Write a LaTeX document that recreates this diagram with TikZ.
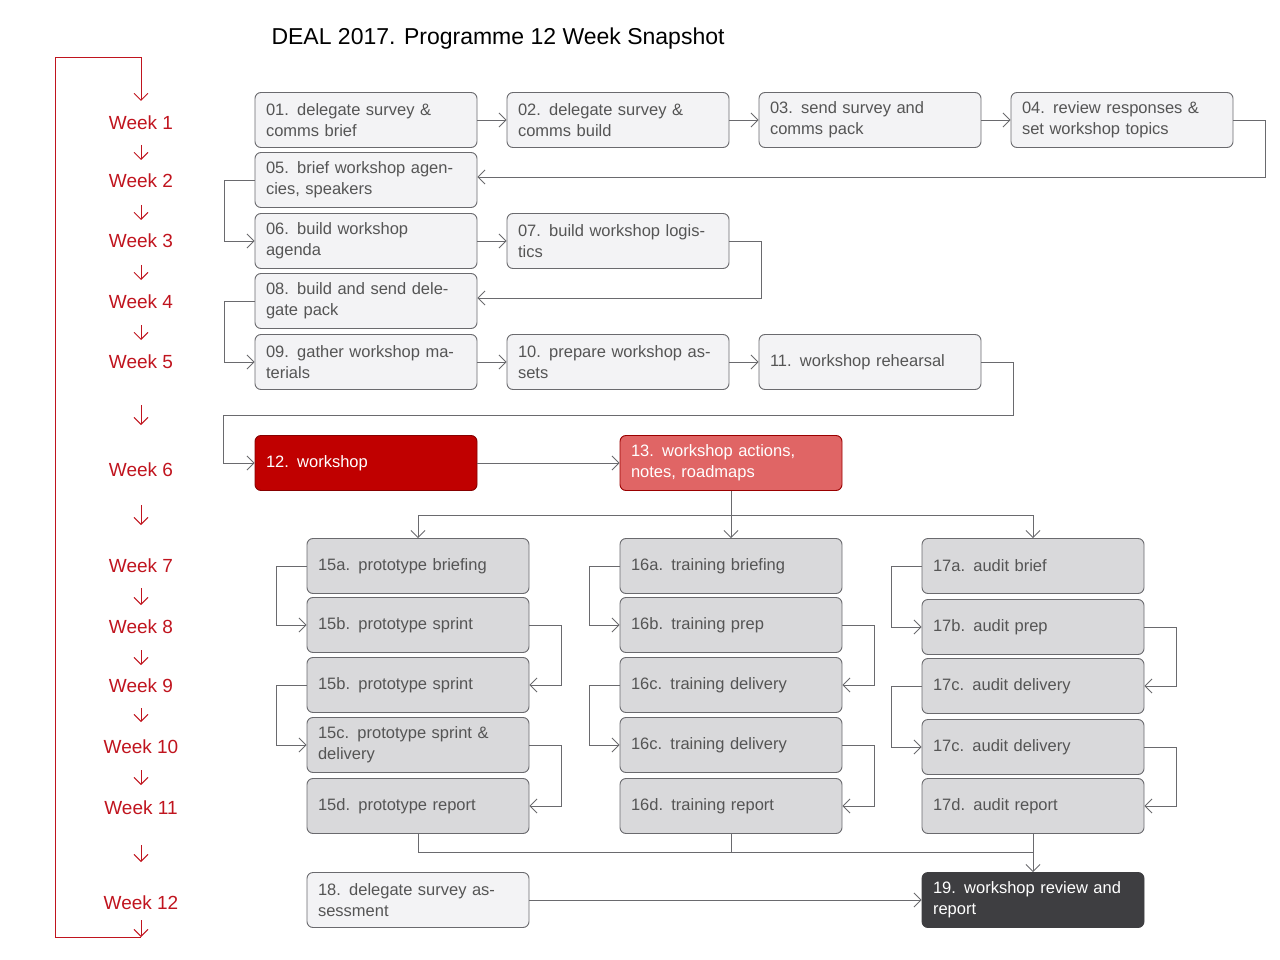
\documentclass[tikz,border=0pt]{standalone}
\usepackage{fontspec}
\setmainfont{Liberation Sans}
\usetikzlibrary{arrows.meta,positioning}
\definecolor{boxline}{HTML}{6A6A6E}
\definecolor{boxfill}{HTML}{F3F3F5}
\definecolor{boxdark}{HTML}{D9D9DB}
\definecolor{txtgray}{HTML}{555555}
\definecolor{weekred}{HTML}{C0141E}
\definecolor{wsred}{HTML}{C00000}
\definecolor{actred}{HTML}{E06565}
\definecolor{review}{HTML}{3E3E41}
\tikzset{
  task/.style={draw=boxline, fill=boxfill, rounded corners=6pt, line width=0.9pt,
    minimum width=222pt, minimum height=55pt, text width=200pt, inner xsep=11pt,
    align=left, text=txtgray, font=\fontsize{16.5}{21}\selectfont},
  phase/.style={task, fill=boxdark},
  week/.style={text=weekred, font=\fontsize{19}{22}\selectfont},
  link/.style={draw=boxline, line width=0.9pt, -{Straight Barb[length=7pt,width=14pt]}},
  plain/.style={draw=boxline, line width=0.9pt},
  wk/.style={draw=weekred, line width=0.9pt, -{Straight Barb[length=7pt,width=14pt]}}
}
\begin{document}
\begin{tikzpicture}[x=1pt,y=-1pt]
\useasboundingbox (0,0) rectangle (1280,960);

\node[anchor=west, font=\fontsize{23}{26}\selectfont] (title) at (268,39) {DEAL 2017. Programme 12 Week Snapshot};

% weeks
\foreach \n/\y in {1/123, 2/181, 3/241, 4/302, 5/362, 6/470, 7/566, 8/627, 9/686, 10/747, 11/808, 12/903}
  \node[week] (w\n) at (141,\y) {Week \n};
\foreach \a/\b in {145/160, 205/220, 265/280, 325/340, 405/425, 505/525, 588/605, 650/665, 708/722, 770/785, 845/862, 920/937}
  \draw[wk] (141,\a) -- (141,\b);
\coordinate (wtop) at (55,57);
\coordinate (wbot) at (55,937);
\draw[wk] (wbot) -- (wtop) -- (141,57) -- (141,101);
\draw[draw=weekred, line width=0.9pt] (wbot) -- (141,937);

% weeks 1 to 5
\node[task] (t01) at (366,120) {01. delegate survey \& comms brief};
\node[task] (t02) at (618,120) {02. delegate survey \& comms build};
\node[task] (t03) at (870,120) {03. send survey and comms pack};
\node[task] (t04) at (1122,120) {04. review responses \& set workshop topics};
\node[task] (t05) at (366,180) {05. brief workshop agencies, speakers};
\node[task] (t06) at (366,241) {06. build workshop agenda};
\node[task] (t07) at (618,241) {07. build workshop logistics};
\node[task] (t08) at (366,301) {08. build and send delegate pack};
\node[task] (t09) at (366,362) {09. gather workshop materials};
\node[task] (t10) at (618,362) {10. prepare workshop assets};
\node[task] (t11) at (870,362) {11. workshop rehearsal};

% week 6
\node[task, fill=wsred, draw=wsred!70!black, text=white] (t12) at (366,463) {12. workshop};
\node[task, fill=actred, draw=wsred!80!black, text=white] (t13) at (731,463) {13. workshop actions, notes, roadmaps};

% weeks 7 to 11
\node[phase] (p15a) at (418,566) {15a. prototype briefing};
\node[phase] (p15b) at (418,625) {15b. prototype sprint};
\node[phase] (p15c) at (418,685) {15b. prototype sprint};
\node[phase] (p15d) at (418,745) {15c. prototype sprint \& delivery};
\node[phase] (p15e) at (418,806) {15d. prototype report};
\node[phase] (p16a) at (731,566) {16a. training briefing};
\node[phase] (p16b) at (731,625) {16b. training prep};
\node[phase] (p16c) at (731,685) {16c. training delivery};
\node[phase] (p16d) at (731,745) {16c. training delivery};
\node[phase] (p16e) at (731,806) {16d. training report};
\node[phase] (p17a) at (1033,566) {17a. audit brief};
\node[phase] (p17b) at (1033,627) {17b. audit prep};
\node[phase] (p17c) at (1033,686) {17c. audit delivery};
\node[phase] (p17d) at (1033,747) {17c. audit delivery};
\node[phase] (p17e) at (1033,806) {17d. audit report};

% week 12
\node[task] (t18) at (418,900) {18. delegate survey assessment};
\node[task, fill=review, draw=review, text=white] (t19) at (1033,900) {19. workshop review and report};

% connectors
\draw[link] (t01) -- (t02);
\draw[link] (t02) -- (t03);
\draw[link] (t03) -- (t04);
\draw[link] (t04.east) -- ++(32,0) |- ([yshift=3pt]t05.east);
\draw[link] (t05.west) -- ++(-30,0) |- (t06.west);
\draw[link] (t06) -- (t07);
\draw[link] (t07.east) -- ++(32,0) |- ([yshift=3pt]t08.east);
\draw[link] (t08.west) -- ++(-30,0) |- (t09.west);
\draw[link] (t09) -- (t10);
\draw[link] (t10) -- (t11);
\draw[link] (t11.east) -- ++(32,0) |- (223,415) |- (t12.west);
\draw[link] (t12) -- (t13);
\coordinate (split) at (731,515);
\draw[plain] (t13.south) -- (split);
\draw[link] (split) -| (p15a.north);
\draw[link] (split) -- (p16a.north);
\draw[link] (split) -| (p17a.north);
\foreach \c in {15,16,17} {
  \draw[link] (p\c a.west) -- ++(-30,0) |- (p\c b.west);
  \draw[link] (p\c b.east) -- ++(32,0) |- (p\c c.east);
  \draw[link] (p\c c.west) -- ++(-30,0) |- (p\c d.west);
  \draw[link] (p\c d.east) -- ++(32,0) |- (p\c e.east);
}
\coordinate (join) at (1033,852);
\draw[plain] (p15e.south) |- (join);
\draw[plain] (p16e.south) -- (p16e.south |- join);
\draw[link] (p17e.south) -- (t19.north);
\draw[link] (t18) -- (t19);
\end{tikzpicture}
\end{document}
